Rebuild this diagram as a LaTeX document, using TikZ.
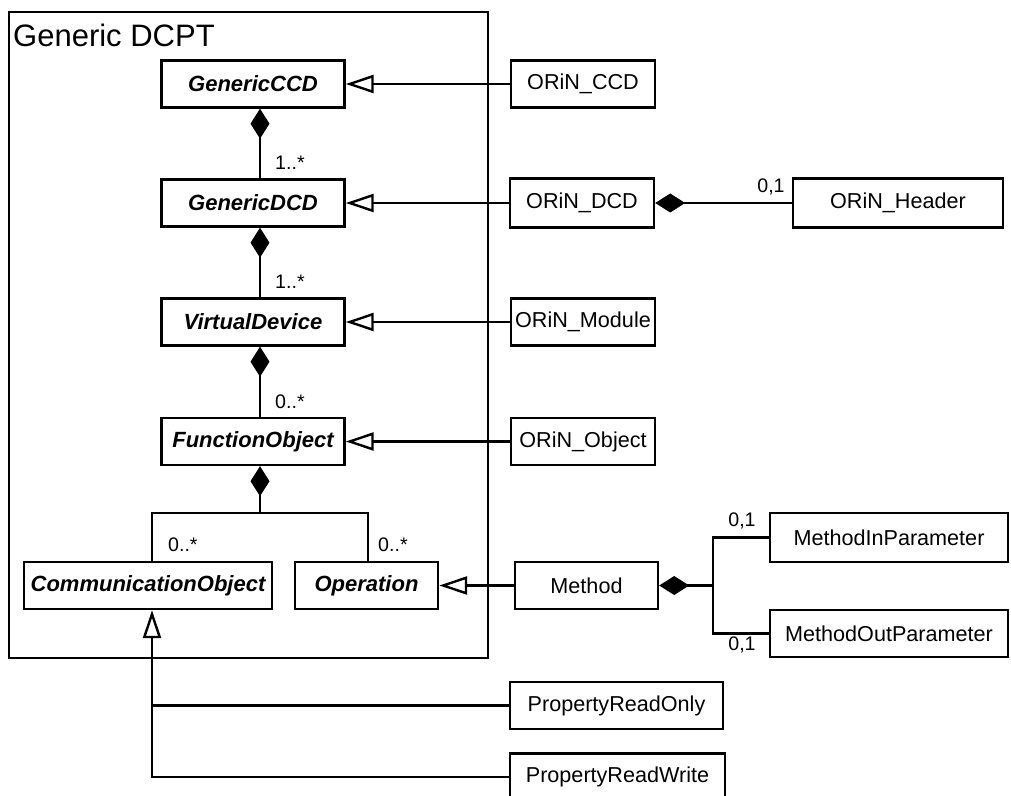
\documentclass[tikz,border=0pt]{standalone}
\usepackage{fontspec}
\setmainfont{Liberation Sans}
\usetikzlibrary{arrows.meta}
\begin{document}
\begin{tikzpicture}[x=0.5pt,y=-0.5pt,
  line width=1.2pt,
  cls/.style={draw, line width=1.2pt, inner sep=0pt, minimum height=23.5pt, font=\fontsize{10.8pt}{12pt}\selectfont},
  abscls/.style={cls, font=\fontsize{11pt}{12pt}\selectfont\bfseries\itshape},
  mult/.style={inner sep=0pt, font=\fontsize{9.8pt}{11pt}\selectfont},
  inh/.style={-{Triangle[length=14pt,width=9pt,fill=white]}},
  comp/.style={{Diamond[length=15pt,width=9.5pt]}-}
]
\useasboundingbox (0,0) rectangle (1011,796);
% package frame
\node[draw, line width=1pt, inner sep=0pt, anchor=north west, minimum width=239.5pt, minimum height=323pt] (dcpt) at (8,11) {};
\node[inner sep=0pt, anchor=base west, font=\fontsize{15.5pt}{17pt}\selectfont] (dcptlbl) at (12,47) {Generic DCPT};
% abstract classes
\node[abscls, minimum width=91.5pt] (gccd) at (253,84) {GenericCCD};
\node[abscls, minimum width=91.5pt] (gdcd) at (253,203) {GenericDCD};
\node[abscls, minimum width=91.5pt] (vd) at (253,322) {VirtualDevice};
\node[abscls, minimum width=91.5pt] (fo) at (253,441.5) {FunctionObject};
\node[abscls, minimum width=124pt] (comm) at (148,585.5) {CommunicationObject};
\node[abscls, minimum width=71.5pt] (op) at (366.5,585.5) {Operation};
% ORiN classes
\node[cls, minimum width=72pt] (occd) at (583,84) {ORiN\_CCD};
\node[cls, minimum width=72pt, minimum height=24.5pt] (odcd) at (582,203) {ORiN\_DCD};
\node[cls, minimum width=105pt, minimum height=24.5pt] (hdr) at (898,203) {ORiN\_Header};
\node[cls, minimum width=72pt] (omod) at (583,322) {ORiN\_Module};
\node[cls, minimum width=72pt] (oobj) at (583,441.5) {ORiN\_Object};
\node[cls, minimum width=71.5pt] (meth) at (586.5,585.5) {Method};
\node[cls, minimum width=119pt, minimum height=24.5pt] (min) at (889,537.5) {MethodInParameter};
\node[cls, minimum width=119pt] (mout) at (889,633.5) {MethodOutParameter};
\node[cls, minimum width=106.5pt] (pro) at (616.5,705.5) {PropertyReadOnly};
\node[cls, minimum width=107.5pt] (prw) at (617.5,777) {PropertyReadWrite};
% generalizations
\draw[inh] (occd.west) -- (gccd.east);
\draw[inh] (odcd.west) -- (gdcd.east);
\draw[inh] (omod.west) -- (vd.east);
\draw[inh] (oobj.west) -- (fo.east);
\draw[inh] (meth.west) -- (op.east);
\coordinate (cj) at (152,705.5);
\draw (pro.west) -- (cj);
\draw[inh] (prw.west) -| ([xshift=2pt]comm.south);
% compositions
\draw[comp] ([xshift=3.5pt]gccd.south) -- ([xshift=3.5pt]gdcd.north);
\draw[comp] ([xshift=3.5pt]gdcd.south) -- ([xshift=3.5pt]vd.north);
\draw[comp] ([xshift=3.5pt]vd.south) -- ([xshift=3.5pt]fo.north);
\coordinate (fj) at (260,513);
\draw[comp] ([xshift=3.5pt]fo.south) -- (fj);
\draw (fj) -| ([xshift=2pt]comm.north);
\draw (fj) -| ([xshift=0.75pt]op.north);
\draw[comp] (odcd.east) -- (hdr.west);
\coordinate (mj) at (713,585.5);
\draw[comp] (meth.east) -- (mj);
\draw (mj) |- (min.west);
\draw (mj) |- (mout.west);
% multiplicities
\node[mult, anchor=west] (m1) at (274,163) {1..*};
\node[mult, anchor=west] (m2) at (274,282) {1..*};
\node[mult, anchor=west] (m3) at (274,402) {0..*};
\node[mult, anchor=west] (m4) at (167,545) {0..*};
\node[mult, anchor=west] (m5) at (377,545) {0..*};
\node[mult] (m6) at (771,187) {0,1};
\node[mult] (m7) at (742,521) {0,1};
\node[mult] (m8) at (742,645) {0,1};
\end{tikzpicture}
\end{document}
